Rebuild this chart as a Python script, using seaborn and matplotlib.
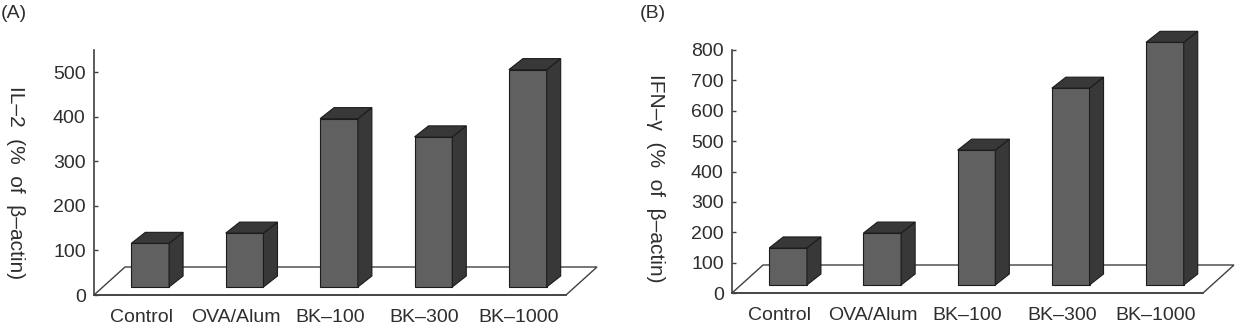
import matplotlib
matplotlib.use("Agg")
import matplotlib.pyplot as plt
import seaborn as sns
import pandas as pd
import numpy as np
from matplotlib.patches import Polygon, Rectangle
from matplotlib.transforms import IdentityTransform, ScaledTranslation

# ---------------- data ----------------
categories = ["Control", "OVA/Alum", "BK–100", "BK–300", "BK–1000"]
il2_values = [98, 121, 378, 337, 488]
ifng_values = [122, 171, 444, 648, 799]
il2_ticks = [0, 100, 200, 300, 400, 500]
ifng_ticks = [0, 100, 200, 300, 400, 500, 600, 700, 800]
il2_label = "IL–2  (%  of  β–actin)"
ifng_label = "IFN–γ  (%  of  β–actin)"

# ---------------- style ----------------
FRONT = "#606060"
DARK = "#383838"
EDGE = "#1c1c1c"
AXC = "#404040"
TXT = "#2e2e2e"
BASE = (9, 8)      # px offset of bar front plane behind the floor front edge
DEPTH = (14, 11)   # px bar depth
FLOOR = (31, 28)   # px floor depth
DPI = 100

sns.set_theme(style="white")
plt.rcParams['font.family'] = ['Liberation Sans', 'DejaVu Sans']

fig = plt.figure(figsize=(12.42, 3.36), dpi=DPI)
axA = fig.add_axes([94 / 1242, 41 / 336, 472 / 1242, 245 / 336])
axB = fig.add_axes([732 / 1242, 43 / 336, 471 / 1242, 243 / 336])


def draw_panel(ax, values, ticks, ymax):
    df = pd.DataFrame({"cat": categories, "val": values})
    sns.barplot(data=df, x="cat", y="val", ax=ax, color=FRONT, width=0.4,
                saturation=1, edgecolor=EDGE, linewidth=0.8, zorder=4)
    bars = [p for p in ax.patches if isinstance(p, Rectangle)]
    ax.set_xlim(-0.5, len(categories) - 0.5)
    ax.set_ylim(0, ymax)
    ax.set_xlabel("")
    ax.set_ylabel("")
    ax.set_yticks(ticks)
    ax.set_yticklabels([str(t) for t in ticks])
    ax.set_xticks(range(len(categories)))
    ax.set_xticklabels(categories)
    ax.set_xticks(np.arange(0.5, len(categories) - 0.5, 1.0), minor=True)
    ax.tick_params(axis='x', which='major', length=0, pad=10, labelsize=14, labelcolor=TXT)
    ax.tick_params(axis='x', which='minor', direction='in', length=3, width=1, color=AXC)
    ax.tick_params(axis='y', which='major', direction='in', length=3, width=1, color=AXC,
                   pad=6, labelsize=14, labelcolor=TXT, left=True)
    for s in ["top", "right"]:
        ax.spines[s].set_visible(False)
    for s in ["left", "bottom"]:
        ax.spines[s].set_color(AXC)
        ax.spines[s].set_linewidth(1.2)
        ax.spines[s].set_zorder(2)
    ax.grid(False)

    # floor (drawn behind bars)
    td = ax.transData
    fl = td.transform((-0.5, 0))
    fr = td.transform((len(categories) - 0.5, 0))
    floor = Polygon([fl, fr, fr + np.array(FLOOR), fl + np.array(FLOOR)],
                    closed=True, facecolor="white", edgecolor=AXC, linewidth=1.0,
                    transform=IdentityTransform(), zorder=1, clip_on=False)
    ax.add_artist(floor)

    base = np.array(BASE, dtype=float)
    dep = np.array(DEPTH, dtype=float)
    shift = ScaledTranslation(BASE[0] / DPI, BASE[1] / DPI, fig.dpi_scale_trans)
    for p in bars:
        p.set_transform(ax.transData + shift)
        p.set_clip_on(False)
        x0 = p.get_x()
        x1 = x0 + p.get_width()
        h = p.get_height()
        br = td.transform((x1, 0)) + base
        tl = td.transform((x0, h)) + base
        tr = td.transform((x1, h)) + base
        side = Polygon([br, tr, tr + dep, br + dep], closed=True, facecolor=DARK,
                       edgecolor=EDGE, linewidth=0.8, transform=IdentityTransform(),
                       zorder=5, clip_on=False)
        top = Polygon([tl, tr, tr + dep, tl + dep], closed=True, facecolor=DARK,
                      edgecolor=EDGE, linewidth=0.8, transform=IdentityTransform(),
                      zorder=5, clip_on=False)
        ax.add_artist(side)
        ax.add_artist(top)


draw_panel(axA, il2_values, il2_ticks, 550)
draw_panel(axB, ifng_values, ifng_ticks, 800)

fig.text(1 / 1242, 1 - 14 / 336, "(A)", ha="left", va="center", fontsize=14, color=TXT)
fig.text(640 / 1242, 1 - 14 / 336, "(B)", ha="left", va="center", fontsize=14, color=TXT)
fig.text(15 / 1242, 1 - 183 / 336, il2_label, rotation=-90, ha="center", va="center",
         fontsize=15, color=TXT)
fig.text(655 / 1242, 1 - 178 / 336, ifng_label, rotation=-90, ha="center", va="center",
         fontsize=15, color=TXT)

fig.savefig("out.png", dpi=DPI)
